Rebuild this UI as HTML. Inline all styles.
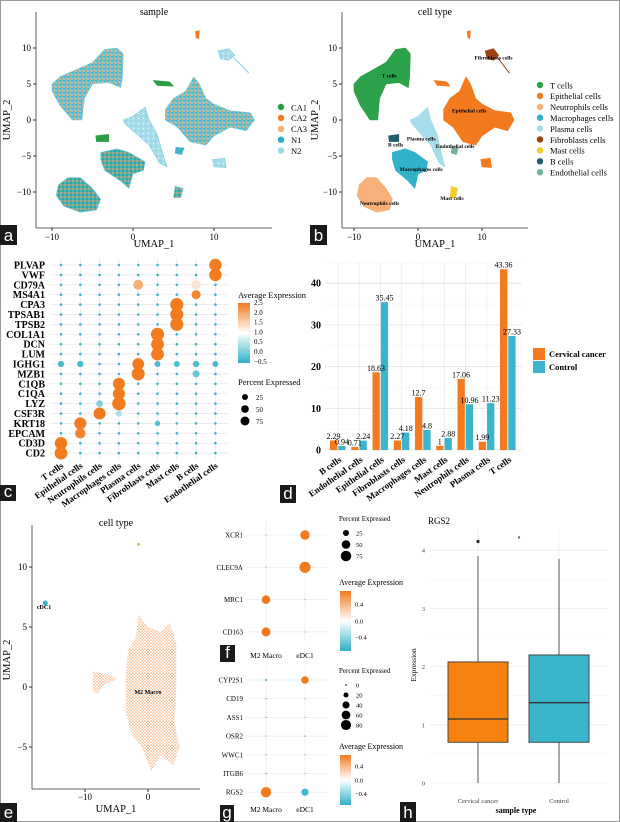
<!DOCTYPE html>
<html><head><meta charset="utf-8"><style>
html,body{margin:0;padding:0;background:#fff;}
svg{display:block;font-family:"Liberation Serif",serif;}
</style></head><body>
<svg id="fig" width="620" height="822" viewBox="0 0 620 822" xmlns="http://www.w3.org/2000/svg">
<defs>
<pattern id="mixA" width="4" height="4" patternUnits="userSpaceOnUse">
<rect width="4" height="4" fill="#7ccfe0"/><circle cx="1" cy="1" r="0.9" fill="#2aaec6"/><circle cx="3" cy="2" r="0.8" fill="#f4a35c"/><circle cx="2" cy="3.3" r="0.7" fill="#f47a1f"/><circle cx="3.5" cy="0.3" r="0.5" fill="#2a9d45"/>
</pattern>
<pattern id="mixB" width="4" height="4" patternUnits="userSpaceOnUse">
<rect width="4" height="4" fill="#3eb3ca"/><circle cx="1" cy="1" r="0.9" fill="#f4a35c"/><circle cx="3" cy="3" r="0.8" fill="#2a9d45"/><circle cx="3" cy="1" r="0.6" fill="#f47a1f"/>
</pattern>
<pattern id="mixC" width="5" height="5" patternUnits="userSpaceOnUse">
<rect width="5" height="5" fill="#a8dceb"/><circle cx="1" cy="1" r="0.7" fill="#7ccfe0"/><circle cx="3.5" cy="3.5" r="0.6" fill="#fff"/>
</pattern>
<pattern id="mixE" width="3" height="3" patternUnits="userSpaceOnUse">
<rect width="3" height="3" fill="#fff"/><circle cx="1" cy="1" r="0.8" fill="#f6a565"/><circle cx="2.4" cy="2.4" r="0.6" fill="#f8b07a"/>
</pattern>
<linearGradient id="gradC" x1="0" y1="0" x2="0" y2="1"><stop offset="0" stop-color="#f37b1f"/><stop offset="0.5" stop-color="#ffffff"/><stop offset="1" stop-color="#2fb1c8"/></linearGradient>
<linearGradient id="gradF" x1="0" y1="0" x2="0" y2="1"><stop offset="0" stop-color="#f37b1f"/><stop offset="0.5" stop-color="#ffffff"/><stop offset="1" stop-color="#2fb1c8"/></linearGradient>
</defs>
<rect x="0.5" y="0.5" width="619" height="821" fill="#fff" stroke="#9a9a9a"/>
<g id="root"></g>
</svg>
<script>
// ---------- DATA ----------
const umapClusters = ["T cells","Neutrophils cells","Macrophages cells","Plasma cells","Epithelial cells","Fibroblasts cells","Mast cells","B cells","Endothelial cells","Epi small 1","Epi small 2","Epi small 3"];
const umapShapes = [
 [[-10,5],[-9,6],[-7,7],[-5,8],[-3.5,9.8],[-2,10],[-1.2,9.2],[-1.3,6],[-1.5,4.5],[-3,5.2],[-5,5],[-6,3],[-6.3,0],[-7.5,0],[-9,2],[-10,4]],
 [[-9.2,-9],[-8,-8],[-6.5,-8],[-5,-9.5],[-4,-11],[-4.5,-12.5],[-6.5,-12.8],[-8.5,-12],[-9.5,-10.5]],
 [[-4,-4.5],[-2,-4],[-0.5,-4.5],[1.5,-5.8],[1.3,-7],[0,-7.5],[-0.5,-9.5],[-1.5,-8.5],[-3.5,-7],[-4,-5.5]],
 [[-1.2,0],[0,0.5],[1.5,1.8],[2,0],[3,-2],[3.5,-4],[4.2,-6.5],[3.3,-6],[2,-3.5],[0,-1.5],[-1,-0.5]],
 [[4,1.5],[5,3],[6.5,4],[7.5,6],[8.2,5],[9,3],[10,2.2],[12,1.3],[14.5,1],[15,0],[14,-1.5],[12,-1],[10,-2.2],[9,-3.5],[7,-3],[5.5,-1],[4,0]],
 [[10.5,9.6],[11.8,9.9],[12.6,9],[11.8,8.3],[10.8,8.5]],
 [[5.2,-9.2],[6.2,-9.5],[5.9,-10.8],[5,-10.8]],
 [[-4.6,-2.2],[-3,-2],[-3,-3],[-4.5,-3]],
 [[5.3,-3.8],[6.3,-3.9],[6,-4.8],[5.2,-4.6]],
 [[9.8,-5.5],[11.3,-5.3],[11.5,-6.6],[10,-6.5]],
 [[7.7,12.3],[8.2,12.4],[8.1,11.3],[7.8,11.4]],
 [[2.5,5.5],[4.5,5.3],[5,4.7],[3,4.8]]
];
const fillA = ["url(#mixA)","url(#mixB)","url(#mixB)","url(#mixC)","url(#mixA)","url(#mixC)","url(#mixB)","#2a9d45","#3eb3ca","url(#mixC)","#f47a1f","#2a9d45"];
const fillB = ["#2ca24b","#f8b07a","#31b2cb","#a7dceb","#f47a1f","#9c4312","#f6cd2c","#23606f","#6fb39c","#f47a1f","#f47a1f","#f47a1f"];
const sampleLegend = ["CA1","CA2","CA3","N1","N2"];
const sampleColors = ["#2a9d45","#f47a1f","#f8b07a","#2aaec6","#9fd6e5"];
const typeLegend = ["T cells","Epithelial cells","Neutrophils cells","Macrophages cells","Plasma cells","Fibroblasts cells","Mast cells","B cells","Endothelial cells"];
const typeColors = ["#2ca24b","#f47a1f","#f8b07a","#31b2cb","#a7dceb","#9c4312","#f6cd2c","#23606f","#6fb39c"];
const typeLabelPos = [[-4.5,6.2],[8,1.3],[-6,-11.5],[0.5,-6.8],[0.5,-2.6],[11.8,8.7],[5.3,-10.8],[-3.5,-3.4],[5.8,-3.6]];
const umapTicks = [-10,0,10];
const umapYTicks = [-10,-5,0,5,10];

const dotGenes = ["PLVAP","VWF","CD79A","MS4A1","CPA3","TPSAB1","TPSB2","COL1A1","DCN","LUM","IGHG1","MZB1","C1QB","C1QA","LYZ","CSF3R","KRT18","EPCAM","CD3D","CD2"];
const dotCells = ["T cells","Epithelial cells","Neutrophils cells","Macrophages cells","Plasma cells","Fibroblasts cells","Mast cells","B cells","Endothelial cells"];
const dotPct = [
 [3,3,3,3,3,3,3,3,70],[3,3,3,3,3,3,3,3,70],[3,3,3,3,40,3,3,35,3],[3,3,3,3,3,3,3,30,3],
 [3,3,3,3,3,3,80,3,3],[3,3,3,3,3,3,80,3,3],[3,3,3,3,3,3,80,3,3],
 [3,3,3,3,3,80,3,3,3],[3,3,3,3,3,75,3,3,3],[3,3,3,3,3,75,3,3,3],
 [10,10,3,3,60,8,8,10,8],[3,3,3,3,80,3,3,15,3],
 [3,3,3,65,3,3,3,3,3],[3,3,3,65,3,3,3,3,3],[3,3,12,85,3,3,3,3,3],[3,3,65,10,3,3,3,3,3],
 [3,65,3,3,3,6,3,3,3],[3,45,3,3,3,3,3,3,3],[70,3,3,3,3,3,3,3,3],[75,3,3,3,3,3,3,3,3]
];
const dotAvg = [
 [-0.4,-0.4,-0.4,-0.4,-0.4,-0.4,-0.4,-0.4,2.5],[-0.4,-0.4,-0.4,-0.4,-0.4,-0.4,-0.4,-0.4,2.5],
 [-0.4,-0.4,-0.4,-0.4,1.9,-0.4,-0.4,1.3,-0.4],[-0.4,-0.4,-0.4,-0.4,-0.4,-0.4,-0.4,2.4,-0.4],
 [-0.4,-0.4,-0.4,-0.4,-0.4,-0.4,2.5,-0.4,-0.4],[-0.4,-0.4,-0.4,-0.4,-0.4,-0.4,2.5,-0.4,-0.4],[-0.4,-0.4,-0.4,-0.4,-0.4,-0.4,2.5,-0.4,-0.4],
 [-0.4,-0.4,-0.4,-0.4,-0.4,2.5,-0.4,-0.4,-0.4],[-0.4,-0.4,-0.4,-0.4,-0.4,2.5,-0.4,-0.4,-0.4],[-0.4,-0.4,-0.4,-0.4,-0.4,2.5,-0.4,-0.4,-0.4],
 [-0.3,-0.3,-0.4,-0.4,2.5,-0.3,-0.3,-0.3,-0.3],[-0.4,-0.4,-0.4,-0.4,2.5,-0.4,-0.4,-0.1,-0.4],
 [-0.4,-0.4,-0.4,2.5,-0.4,-0.4,-0.4,-0.4,-0.4],[-0.4,-0.4,-0.4,2.5,-0.4,-0.4,-0.4,-0.4,-0.4],[-0.4,-0.4,0.1,2.5,-0.4,-0.4,-0.4,-0.4,-0.4],[-0.4,-0.4,2.5,0.4,-0.4,-0.4,-0.4,-0.4,-0.4],
 [-0.4,2.5,-0.4,-0.4,-0.4,-0.2,-0.4,-0.4,-0.4],[-0.4,2.4,-0.4,-0.4,-0.4,-0.4,-0.4,-0.4,-0.4],[2.5,-0.4,-0.4,-0.4,-0.4,-0.4,-0.4,-0.4,-0.4],[2.5,-0.4,-0.4,-0.4,-0.4,-0.4,-0.4,-0.4,-0.4]
];

const barCategories = ["B cells","Endothelial cells","Epithelial cells","Fibroblasts cells","Macrophages cells","Mast cells","Neutrophils cells","Plasma cells","T cells"];
const barCancer = [2.29,0.71,18.63,2.27,12.7,1,17.06,1.99,43.36];
const barControl = [0.94,2.24,35.45,4.18,4.8,2.88,10.96,11.23,27.33];
const barTicks = [0,10,20,30,40];

const fGenes = ["XCR1","CLEC9A","MRC1","CD163"];
const fCols = ["M2 Macro","eDC1"];
const fPct = [[2,60],[2,85],[50,2],[55,2]];
const fAvg = [[-0.3,0.6],[-0.3,0.65],[0.6,-0.3],[0.6,-0.3]];
const gGenes = ["CYP2S1","CD19","ASS1","OSR2","WWC1","ITGB6","RGS2"];
const gPct = [[5,45],[1,1],[1,1],[1,1],[1,1],[1,1],[85,40]];
const gAvg = [[-0.4,0.6],[0.5,-0.3],[0.5,-0.3],[-0.3,0.5],[0.5,-0.3],[0.5,-0.3],[0.6,-0.5]];

const boxGroups = ["Cervical cancer","Control"];
const boxQ1 = [0.7,0.7];
const boxMed = [1.1,1.38];
const boxQ3 = [2.08,2.2];
const boxLo = [0,0];
const boxHi = [3.9,3.85];
const boxOut = [4.15,4.22];
const boxTicks = [0,1,2,3,4];

// ---------- HELPERS ----------
const NS="http://www.w3.org/2000/svg";
const root=document.getElementById('root');
function mk(tag,attrs,parent,text){const e=document.createElementNS(NS,tag);for(const k in attrs)e.setAttribute(k,attrs[k]);if(text!==undefined)e.textContent=text;(parent||root).appendChild(e);return e;}
function grp(name){const g=mk('g',{});


return g;}
function lerp(a,b,t){return Math.round(a+(b-a)*t);}
function colScale(v,lo,mid,hi){const o=[243,123,31],w=[255,255,255],b=[47,177,200];let c;
 if(v>=mid){const t=Math.min(1,(v-mid)/(hi-mid));c=[lerp(w[0],o[0],t),lerp(w[1],o[1],t),lerp(w[2],o[2],t)];}
 else{const t=Math.min(1,(mid-v)/(mid-lo));c=[lerp(w[0],b[0],t),lerp(w[1],b[1],t),lerp(w[2],b[2],t)];}
 return `rgb(${c[0]},${c[1]},${c[2]})`;}
function panelLabel(x,y,w,h,letter){const g=grp('panel-label-'+letter);
 mk('rect',{x:x,y:y,width:w,height:h,fill:'#1a1a1a'},g);
 mk('text',{x:x+w/2,y:y+h-4,'text-anchor':'middle',fill:'#fff','font-size':17,'font-family':'Liberation Sans, sans-serif'},g,letter);}

// ---------- UMAP a & b ----------
function umap(cfg){
 const {ox,x0,sx,fills,title,name,legendItems,legendCols,labels,left,right,titleX,legX,legY0,ylabX}=cfg;
 const g=grp(name);
 const X=v=>x0+v*sx, Y=v=>120-v*7.2;
 const bottom=228;
 mk('text',{x:titleX,y:15,'text-anchor':'middle','font-size':10},g,title);
 umapShapes.forEach((s,i)=>{const p=mk('polygon',{points:s.map(q=>X(q[0])+','+Y(q[1])).join(' '),fill:fills[i],stroke:fills[i].startsWith('#')?fills[i]:'#7ccfe0','stroke-width':0.6,'stroke-linejoin':'round'},g);
  
  });
 mk('line',{x1:X(12.5),y1:Y(8.6),x2:X(14.3),y2:Y(6.5),stroke:fills===fillB?'#9c4312':'#7ccfe0','stroke-width':1},g);
 mk('line',{x1:left,y1:12,x2:left,y2:bottom,stroke:'#333','stroke-width':0.8},g);
 mk('line',{x1:left,y1:bottom,x2:right,y2:bottom,stroke:'#333','stroke-width':0.8},g);
 umapTicks.forEach(t=>{mk('line',{x1:X(t),y1:bottom,x2:X(t),y2:bottom+3,stroke:'#333'},g);mk('text',{x:X(t),y:bottom+12,'text-anchor':'middle','font-size':9},g,t===0?'0':(t<0?'\u2212'+(-t):t));});
 umapYTicks.forEach(t=>{mk('line',{x1:left-3,y1:Y(t),x2:left,y2:Y(t),stroke:'#333'},g);mk('text',{x:left-5,y:Y(t)+3,'text-anchor':'end','font-size':9},g,t===0?'0':(t<0?'\u2212'+(-t):t));});
 mk('text',{x:titleX,y:247,'text-anchor':'middle','font-size':10.5},g,'UMAP_1');
 mk('text',{x:ylabX,y:120,'text-anchor':'middle','font-size':10.5,transform:`rotate(-90 ${ylabX} 120)`},g,'UMAP_2');
 if(labels){typeLegend.forEach((n,i)=>{mk('text',{x:X(labels[i][0]),y:Y(labels[i][1])+2,'text-anchor':'middle','font-size':5.5,'font-weight':'bold'},g,n);});}
 const dy=10.9;
 legendItems.forEach((n,i)=>{const e=grp('legend-entry-'+n.toLowerCase().replace(/ /g,'-'));g.appendChild(e);
  mk('circle',{cx:legX,cy:legY0+i*dy,r:3.2,fill:legendCols[i]},e);
  mk('text',{x:legX+10,y:legY0+i*dy+3.3,'font-size':8.5},e,n);});
}
umap({ox:0,x0:133,sx:8.1,fills:fillA,title:'sample',name:'umap-sample-plot',legendItems:sampleLegend,legendCols:sampleColors,labels:null,left:36,right:272,titleX:154,legX:281,legY0:107,ylabX:10});
umap({ox:310,x0:418,sx:6.4,fills:fillB,title:'cell type',name:'umap-celltype-plot',legendItems:typeLegend,legendCols:typeColors,labels:typeLabelPos,left:342,right:528,titleX:435,legX:540,legY0:85,ylabX:318});
panelLabel(0,225,17,20,'a');panelLabel(310,225,17,20,'b');

// ---------- c dot plot ----------
(function(){const g=grp('marker-dotplot');
 const cx=i=>61+i*19.3, ry=j=>265+j*9.9;
 const rS=p=>p<=5?1.3:1.3+Math.sqrt(p/85)*5.4;
 dotGenes.forEach((gn,j)=>{mk('line',{x1:50,y1:ry(j),x2:228,y2:ry(j),stroke:'#e6e6e6','stroke-width':0.7},g);
  mk('text',{x:45,y:ry(j)+3.5,'text-anchor':'end','font-size':10,'font-weight':'bold'},g,gn);});
 dotCells.forEach((c,i)=>{mk('line',{x1:cx(i),y1:258,x2:cx(i),y2:460,stroke:'#e6e6e6','stroke-width':0.7},g);
  mk('text',{x:cx(i)+3,y:467,'text-anchor':'end','font-size':9,'font-weight':'bold',transform:`rotate(-35 ${cx(i)+3} 467)`},g,c);});
 dotGenes.forEach((gn,j)=>dotCells.forEach((c,i)=>{const d=mk('circle',{cx:cx(i),cy:ry(j),r:rS(dotPct[j][i]),fill:colScale(dotAvg[j][i],-0.5,1,2.5)},g);
  
  }));
 mk('text',{x:238,y:298,'font-size':8.5},g,'Average Expression');
 mk('rect',{x:238,y:303,width:12,height:60,fill:'url(#gradC)'},g);
 ['2.5','2.0','1.5','1.0','0.5','0.0','\u22120.5'].forEach((t,i)=>mk('text',{x:254,y:305+i*9.8,'font-size':7},g,t));
 mk('text',{x:238,y:385,'font-size':8.5},g,'Percent Expressed');
 [25,50,75].forEach((p,i)=>{mk('circle',{cx:245,cy:397+i*12,r:rS(p)*0.7,fill:'#000'},g);mk('text',{x:256,y:400+i*12,'font-size':7},g,p);});
})();
panelLabel(0,485,16,16,'c');

// ---------- d bar chart ----------
(function(){const g=grp('proportion-bar-chart');
 const Y=v=>450-v*4.17, cx=i=>338+i*21.25;
 for(let v=5;v<=45;v+=10)mk('line',{x1:325,y1:Y(v),x2:522,y2:Y(v),stroke:'#f3f3f3','stroke-width':0.6},g);
 barTicks.forEach(t=>{mk('line',{x1:325,y1:Y(t),x2:522,y2:Y(t),stroke:'#e4e4e4','stroke-width':0.8},g);
  mk('text',{x:321,y:Y(t)+3.5,'text-anchor':'end','font-size':10,'font-weight':'bold'},g,t);});
 barCategories.forEach((c,i)=>{mk('line',{x1:cx(i),y1:262,x2:cx(i),y2:452,stroke:'#e8e8e8','stroke-width':0.7},g);
  const a=mk('rect',{x:cx(i)-8,y:Y(barCancer[i]),width:7.3,height:barCancer[i]*4.17,fill:'#f47a1f'},g);
  
  
  const b=mk('rect',{x:cx(i)+0.3,y:Y(barControl[i]),width:7.3,height:barControl[i]*4.17,fill:'#3bb5cb'},g);
  
  
  mk('text',{x:cx(i)-4.5,y:Y(barCancer[i])-1.5,'text-anchor':'middle','font-size':8},g,barCancer[i]);
  mk('text',{x:cx(i)+4,y:Y(barControl[i])-1.5,'text-anchor':'middle','font-size':8},g,barControl[i]);
  mk('text',{x:cx(i)+4,y:461,'text-anchor':'end','font-size':9,'font-weight':'bold',transform:`rotate(-35 ${cx(i)+4} 461)`},g,c);});
 const l1=grp('legend-entry-cervical-cancer');g.appendChild(l1);
 mk('rect',{x:533,y:348,width:12,height:12,fill:'#f47a1f'},l1);mk('text',{x:549,y:357,'font-size':8.5,'font-weight':'bold'},l1,'Cervical cancer');
 const l2=grp('legend-entry-control');g.appendChild(l2);
 mk('rect',{x:533,y:361,width:12,height:12,fill:'#3bb5cb'},l2);mk('text',{x:549,y:370,'font-size':8.5,'font-weight':'bold'},l2,'Control');
})();
panelLabel(280,485,16,18,'d');

// ---------- e UMAP ----------
(function(){const g=grp('umap-subcluster-plot');
 const X=v=>148+v*6.3, Y=v=>687-v*12;
 mk('text',{x:116,y:526,'text-anchor':'middle','font-size':10},g,'cell type');
 const main=[[-1.5,6],[0,5],[2,4.6],[3.5,5.3],[4.5,3.5],[4.5,0],[4.2,-3],[5,-5],[4,-6.5],[2,-5.7],[0.5,-7],[-1,-5],[-2.5,-4],[-3.6,-2],[-3.5,1],[-3.2,3],[-2,4]];
 const side=[[-8.7,1.3],[-6,1],[-5,0.6],[-7,0.2],[-8,-0.6],[-8.8,-0.3]];
 mk('polygon',{points:main.map(q=>X(q[0])+','+Y(q[1])).join(' '),fill:'url(#mixE)'},g);
 mk('polygon',{points:side.map(q=>X(q[0])+','+Y(q[1])).join(' '),fill:'url(#mixE)'},g);
 mk('circle',{cx:X(-16.3),cy:Y(7),r:2.5,fill:'#31b2cb'},g);
 mk('circle',{cx:X(-1.5),cy:Y(11.9),r:1.5,fill:'#f4b24a'},g);
 mk('text',{x:X(-16.5),y:Y(6.5),'text-anchor':'middle','font-size':6,'font-weight':'bold'},g,'cDC1');
 mk('text',{x:X(0),y:Y(-0.6),'text-anchor':'middle','font-size':6,'font-weight':'bold'},g,'M2 Macro');
 mk('line',{x1:32,y1:525,x2:32,y2:789,stroke:'#333','stroke-width':0.8},g);
 mk('line',{x1:32,y1:789,x2:200,y2:789,stroke:'#333','stroke-width':0.8},g);
 [-10,0].forEach(t=>{mk('line',{x1:X(t),y1:789,x2:X(t),y2:792,stroke:'#333'},g);mk('text',{x:X(t),y:800,'text-anchor':'middle','font-size':9},g,t===0?'0':'\u221210');});
 [-5,0,5,10].forEach(t=>{mk('line',{x1:29,y1:Y(t),x2:32,y2:Y(t),stroke:'#333'},g);mk('text',{x:27,y:Y(t)+3,'text-anchor':'end','font-size':9},g,t<0?'\u22125':t);});
 mk('text',{x:116,y:812,'text-anchor':'middle','font-size':10.5},g,'UMAP_1');
 mk('text',{x:10,y:660,'text-anchor':'middle','font-size':10.5,transform:'rotate(-90 10 660)'},g,'UMAP_2');
})();
panelLabel(0,803,17,19,'e');

// ---------- f & g small dot plots ----------
function smallDot(name,genes,pct,avg,y0,dy,rMax,labelY,legY,legPct,legR,barY,barH){
 const g=grp(name);const cx=i=>266+i*39, ry=j=>y0+j*dy;
 const rS=p=>p<=2?0.8:Math.sqrt(p/85)*rMax;
 fCols.forEach((c,i)=>{mk('line',{x1:cx(i),y1:y0-14,x2:cx(i),y2:ry(genes.length-1)+10,stroke:'#ececec','stroke-width':0.7},g);
  mk('text',{x:cx(i),y:labelY,'text-anchor':'middle','font-size':7.5},g,c);});
 genes.forEach((gn,j)=>{mk('line',{x1:245,y1:ry(j),x2:328,y2:ry(j),stroke:'#ececec','stroke-width':0.7},g);
  mk('text',{x:243,y:ry(j)+2.5,'text-anchor':'end','font-size':7},g,gn);
  fCols.forEach((c,i)=>{const d=mk('circle',{cx:cx(i),cy:ry(j),r:rS(pct[j][i]),fill:colScale(avg[j][i],-0.55,0,0.6)},g);
   
   });});
 mk('text',{x:339,y:legY,'font-size':7},g,'Percent Expressed');
 legPct.forEach((p,i)=>{mk('circle',{cx:346,cy:legY+12+i*legR,r:Math.max(0.6,rS(p)),fill:'#000'},g);mk('text',{x:356,y:legY+14.5+i*legR,'font-size':6.5},g,p);});
 mk('text',{x:339,y:barY-6,'font-size':8},g,'Average Expression');
 mk('rect',{x:340,y:barY,width:11,height:barH,fill:'url(#gradF)'},g);
 [['0.4',0.22],['0.0',0.5],['\u22120.4',0.77]].forEach(t=>mk('text',{x:355,y:barY+barH*t[1]+2.5,'font-size':6.5},g,t[0]));
}
smallDot('dotplot-f',fGenes,fPct,fAvg,535,32.3,5.6,658,521,[25,50,75],11.5,591,60);
smallDot('dotplot-g',gGenes,gPct,gAvg,680,18.7,5.2,812,673,[0,20,40,60,80],10,755,50);
panelLabel(220,645,15,17,'f');panelLabel(220,805,14,17,'g');

// ---------- h boxplot ----------
(function(){const g=grp('rgs2-boxplot');
 const Y=v=>783-v*58.2, cx=i=>478+i*81;
 mk('text',{x:428,y:524,'font-size':9},g,'RGS2');
 for(let v=0.5;v<=4.5;v+=1)if(Y(v)>525)mk('line',{x1:430,y1:Y(v),x2:608,y2:Y(v),stroke:'#f5f5f5','stroke-width':0.6},g);
 boxTicks.forEach(t=>{mk('line',{x1:430,y1:Y(t),x2:608,y2:Y(t),stroke:'#ebebeb','stroke-width':0.8},g);mk('text',{x:425,y:Y(t)+2.5,'text-anchor':'end','font-size':6.5,fill:'#444'},g,t);});
 boxGroups.forEach((n,i)=>{mk('line',{x1:cx(i),y1:528,x2:cx(i),y2:786,stroke:'#ebebeb','stroke-width':0.8},g);
  mk('line',{x1:cx(i),y1:Y(boxLo[i]),x2:cx(i),y2:Y(boxHi[i]),stroke:'#555','stroke-width':1},g);
  const r=mk('rect',{x:cx(i)-30,y:Y(boxQ3[i]),width:60,height:(boxQ3[i]-boxQ1[i])*58.2,fill:i?'#3bb5cb':'#f7810f',stroke:'#3a3a3a','stroke-width':0.9},g);
  
  
  mk('line',{x1:cx(i)-30,y1:Y(boxMed[i]),x2:cx(i)+30,y2:Y(boxMed[i]),stroke:'#333','stroke-width':1.3},g);
  mk('circle',{cx:i?cx(i)-40:cx(i),cy:Y(boxOut[i]),r:i?1.2:1.6,fill:i?'#666':'#222'},g);
  mk('text',{x:cx(i),y:803,'text-anchor':'middle','font-size':6.5,fill:'#444'},g,n);});
 mk('text',{x:516,y:813,'text-anchor':'middle','font-size':8,'font-weight':'bold'},g,'sample type');
 mk('text',{x:416,y:665,'text-anchor':'middle','font-size':7.5,transform:'rotate(-90 416 665)'},g,'Expression');
})();
panelLabel(400,802,16,20,'h');
</script>
</body></html>
